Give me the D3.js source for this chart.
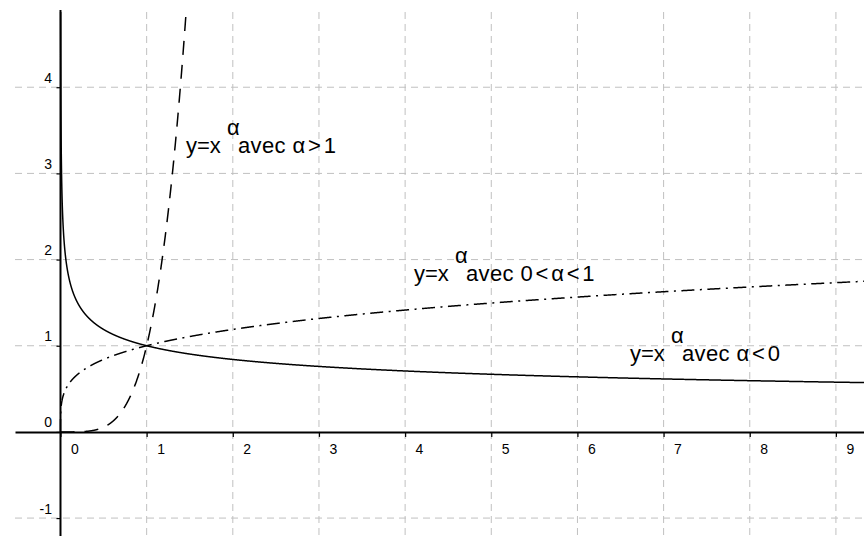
<!DOCTYPE html>
<html><head><meta charset="utf-8">
<script src="https://cdn.jsdelivr.net/npm/d3@7"></script>
<style>html,body{margin:0;padding:0;background:#fff;} svg{display:block;}</style>
</head><body>
<svg id="chart" width="864" height="536"></svg>
<script>
// ---- data ----
const xTicks = [0, 1, 2, 3, 4, 5, 6, 7, 8, 9];
const xTickLabels = ["0", "1", "2", "3", "4", "5", "6", "7", "8", "9"];
const yTicks = [-1, 0, 1, 2, 3, 4];
const yTickLabels = ["-1", "0", "1", "2", "3", "4"];
const gridX = [1, 2, 3, 4, 5, 6, 7, 8, 9];
const gridY = [-1, 1, 2, 3, 4];
const xDomain = [-0.528, 9.326];
const yDomain = [-1.208, 4.873];
// exponents of y = x^α for the three curves (α>1, 0<α<1, α<0)
const exponents = [4.2, 0.25, -0.25];
const labelWords = ["avec", "avec", "avec"];
const labelConditions = ["α>1", "0<α<1", "α<0"];

// ---- drawing ----
const svg = d3.select("#chart");
const x = d3.scaleLinear().domain(xDomain).range([15, 864]);
const y = d3.scaleLinear().domain(yDomain).range([536, 12]);
const FONT = "'Liberation Sans', Arial, Helvetica, sans-serif";

svg.append("defs").append("clipPath").attr("id", "plot")
  .append("rect").attr("x", 15).attr("y", 12).attr("width", 849).attr("height", 524);

// grid
const grid = svg.append("g").attr("stroke", "#c0c0c0").attr("stroke-width", 1)
  .attr("stroke-dasharray", "7,5").attr("fill", "none");
grid.selectAll("line.gx").data(gridX).join("line").attr("class", "gx")
  .attr("x1", d => x(d)).attr("x2", d => x(d)).attr("y1", 12).attr("y2", 536);
grid.selectAll("line.gy").data(gridY).join("line").attr("class", "gy")
  .attr("y1", d => y(d)).attr("y2", d => y(d)).attr("x1", 15).attr("x2", 864);

// axes
const xAxis = d3.axisBottom(x).tickValues(xTicks).tickSize(5).tickSizeOuter(0)
  .tickFormat((d, i) => xTickLabels[i]);
const yAxis = d3.axisLeft(y).tickValues(yTicks).tickSize(4).tickSizeOuter(0)
  .tickFormat((d, i) => yTickLabels[i]);

const gx = svg.append("g").attr("transform", `translate(0,${y(0)})`).call(xAxis);
const gy = svg.append("g").attr("transform", `translate(${x(0)},0)`).call(yAxis);
[gx, gy].forEach(g => {
  g.attr("font-family", FONT).attr("font-size", 14);
  g.select(".domain").attr("stroke", "#000").attr("stroke-width", 2);
  g.selectAll(".tick line").attr("stroke", "#000").attr("stroke-width", 1.2);
  g.selectAll(".tick text").attr("fill", "#000");
});
gx.selectAll(".tick text").attr("text-anchor", "start").attr("x", 10).attr("y", 22).attr("dy", 0);
gy.selectAll(".tick text").attr("text-anchor", "end").attr("x", -8.5).attr("y", -5).attr("dy", 0);
gy.select(".domain").attr("d", `M0,${10}V536`);

// curves
const N = 3000;
const styles = [
  { dash: "14,10" },
  { dash: "13,5.5,2,5.5" },
  { dash: null }
];
const line = d3.line().x(d => x(d[0])).y(d => y(d[1]));
const curves = svg.append("g").attr("clip-path", "url(#plot)");
exponents.forEach((a, k) => {
  const start = a > 0 ? 0 : 1;
  const pts = d3.range(start, N + 1)
    .map(i => { const t = xDomain[1] * Math.pow(i / N, 4); return [t, Math.pow(t, a)]; })
    .filter(p => p[1] < 20);
  curves.append("path").datum(pts).attr("d", line)
    .attr("fill", "none").attr("stroke", "#000").attr("stroke-width", 1.5)
    .attr("stroke-dasharray", styles[k].dash);
});

// labels
const labelAt = [[1.456, 3.237], [4.102, 1.751], [6.609, 0.823]];
labelConditions.forEach((cond, k) => {
  const px = x(labelAt[k][0]), py = y(labelAt[k][1]);
  const g = svg.append("g").attr("font-family", FONT).attr("font-size", 22).attr("fill", "#000");
  g.append("text").attr("x", px).attr("y", py).text("y=x");
  g.append("text").attr("x", px + 41).attr("y", py - 18).text("α");
  const t = g.append("text").attr("x", px + 52).attr("y", py);
  t.append("tspan").attr("letter-spacing", 0.4).text(labelWords[k] + " ");
  t.append("tspan").attr("letter-spacing", 2.8).text(cond);
});
</script>
</body></html>
